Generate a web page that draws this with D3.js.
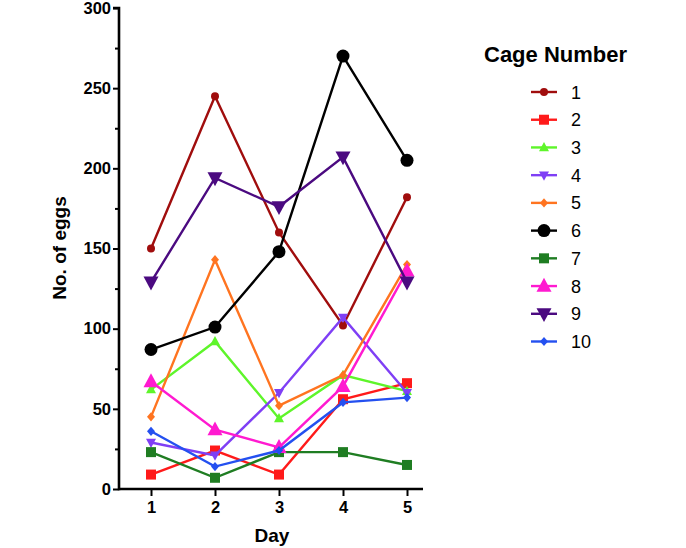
<!DOCTYPE html>
<html><head><meta charset="utf-8">
<script src="https://cdn.jsdelivr.net/npm/d3@7"></script>
<style>body{margin:0;background:#fff}svg{display:block}text{font-family:"Liberation Sans",Arial,sans-serif}</style>
</head><body><svg id="c" width="686" height="548"></svg>
<script>
const days = [1, 2, 3, 4, 5];
const cageNames = ["1","2","3","4","5","6","7","8","9","10"];
const cage1 = [150, 245, 160, 102, 182];
const cage2 = [9, 24, 9, 56, 66];
const cage3 = [62, 92, 44, 71, 61];
const cage4 = [29, 21, 60, 107, 60];
const cage5 = [45, 143, 52, 71, 140];
const cage6 = [87, 101, 148, 270, 205];
const cage7 = [23, 7, 23, 23, 15];
const cage8 = [67, 37, 26, 64, 136];
const cage9 = [129, 194, 176, 207, 129];
const cage10 = [36, 14, 24, 54, 57];
const yTicks = [0, 50, 100, 150, 200, 250, 300];
const yMinor = [25, 75, 125, 175, 225, 275];
const colors = ["#a00d0d","#ff1a1a","#5ef52a","#7f3ff5","#ff7420","#000000","#1f7d22","#ff1ad0","#4b0a80","#2450f0"];
const shapes = ["circle","square","triUp","triDown","diamond","circle","square","triUp","triDown","diamond"];
const sizes = [4, 5, 5, 5, 4, 6.5, 5, 7.5, 7.5, 4];
const seriesValues = [cage1,cage2,cage3,cage4,cage5,cage6,cage7,cage8,cage9,cage10];

const svg = d3.select("#c");
const x = d3.scaleLinear().domain([0.5, 5.25]).range([119, 423]);
const y = d3.scaleLinear().domain([0, 300]).range([489, 8]);

function marker(g, shape, r, color) {
  if (shape === "circle") g.append("circle").attr("r", r).attr("fill", color);
  else if (shape === "square") g.append("rect").attr("x", -r).attr("y", -r).attr("width", 2*r).attr("height", 2*r).attr("fill", color);
  else if (shape === "triUp") g.append("path").attr("d", `M0,${-r*1.1}L${r},${r*0.75}L${-r},${r*0.75}Z`).attr("fill", color);
  else if (shape === "triDown") g.append("path").attr("d", `M0,${r*1.1}L${r},${-r*0.75}L${-r},${-r*0.75}Z`).attr("fill", color);
  else if (shape === "diamond") g.append("path").attr("d", `M0,${-r*1.15}L${r},0L0,${r*1.15}L${-r},0Z`).attr("fill", color);
}

// axes
const yAxis = d3.axisLeft(y).tickValues(yTicks).tickSize(6).tickPadding(2).tickFormat(d3.format("d"));
const gy = svg.append("g").attr("transform", "translate(119,0)").call(yAxis);
gy.select(".domain").attr("stroke-width", 2.6).attr("d", `M-6,${y(300)}H0V${y(0)+1.3}`);
gy.selectAll(".tick line").attr("stroke-width", 2);
gy.selectAll(".tick text").attr("font-size", 16.5).attr("font-weight", "bold").attr("fill", "#000");
const gyMinor = svg.append("g").attr("transform", "translate(119,0)")
  .call(d3.axisLeft(y).tickValues(yMinor).tickSize(4).tickFormat(""));
gyMinor.select(".domain").remove();
gyMinor.selectAll(".tick line").attr("stroke-width", 2);

const xAxis = d3.axisBottom(x).tickValues(days).tickSize(7).tickPadding(5).tickFormat(d3.format("d"));
const gx = svg.append("g").attr("transform", "translate(0,489)").call(xAxis);
gx.select(".domain").attr("stroke-width", 2.6).attr("d", `M119,0H423`);
gx.selectAll(".tick line").attr("stroke-width", 2);
gx.selectAll(".tick text").attr("font-size", 16.5).attr("font-weight", "bold").attr("fill", "#000");

svg.append("text").attr("x", 272).attr("y", 542).attr("text-anchor", "middle")
  .attr("font-size", 19).attr("font-weight", "bold").text("Day");
svg.append("text").attr("transform", "translate(66,248) rotate(-90)").attr("text-anchor", "middle")
  .attr("font-size", 19).attr("font-weight", "bold").text("No. of eggs");

// series
const line = d3.line().x((d, i) => x(days[i])).y(d => y(d));
seriesValues.forEach((vals, s) => {
  const g = svg.append("g");
  g.append("path").attr("d", line(vals)).attr("fill", "none").attr("stroke", colors[s]).attr("stroke-width", 2.4);
  vals.forEach((v, i) => {
    const m = g.append("g").attr("transform", `translate(${x(days[i])},${y(v)})`);
    marker(m, shapes[s], sizes[s], colors[s]);
  });
});

// legend
svg.append("text").attr("x", 484).attr("y", 62).attr("font-size", 22).attr("font-weight", "bold").text("Cage Number");
const ly = d3.scaleLinear().domain([0, 9]).range([92, 341.5]);
cageNames.forEach((name, s) => {
  const g = svg.append("g").attr("transform", `translate(0,${ly(s)})`);
  g.append("line").attr("x1", 531).attr("x2", 557).attr("stroke", colors[s]).attr("stroke-width", 2.4);
  const m = g.append("g").attr("transform", "translate(544,0)");
  marker(m, shapes[s], sizes[s], colors[s]);
  g.append("text").attr("x", 571).attr("y", 6.5).attr("font-size", 18).text(name);
});
</script></body></html>
